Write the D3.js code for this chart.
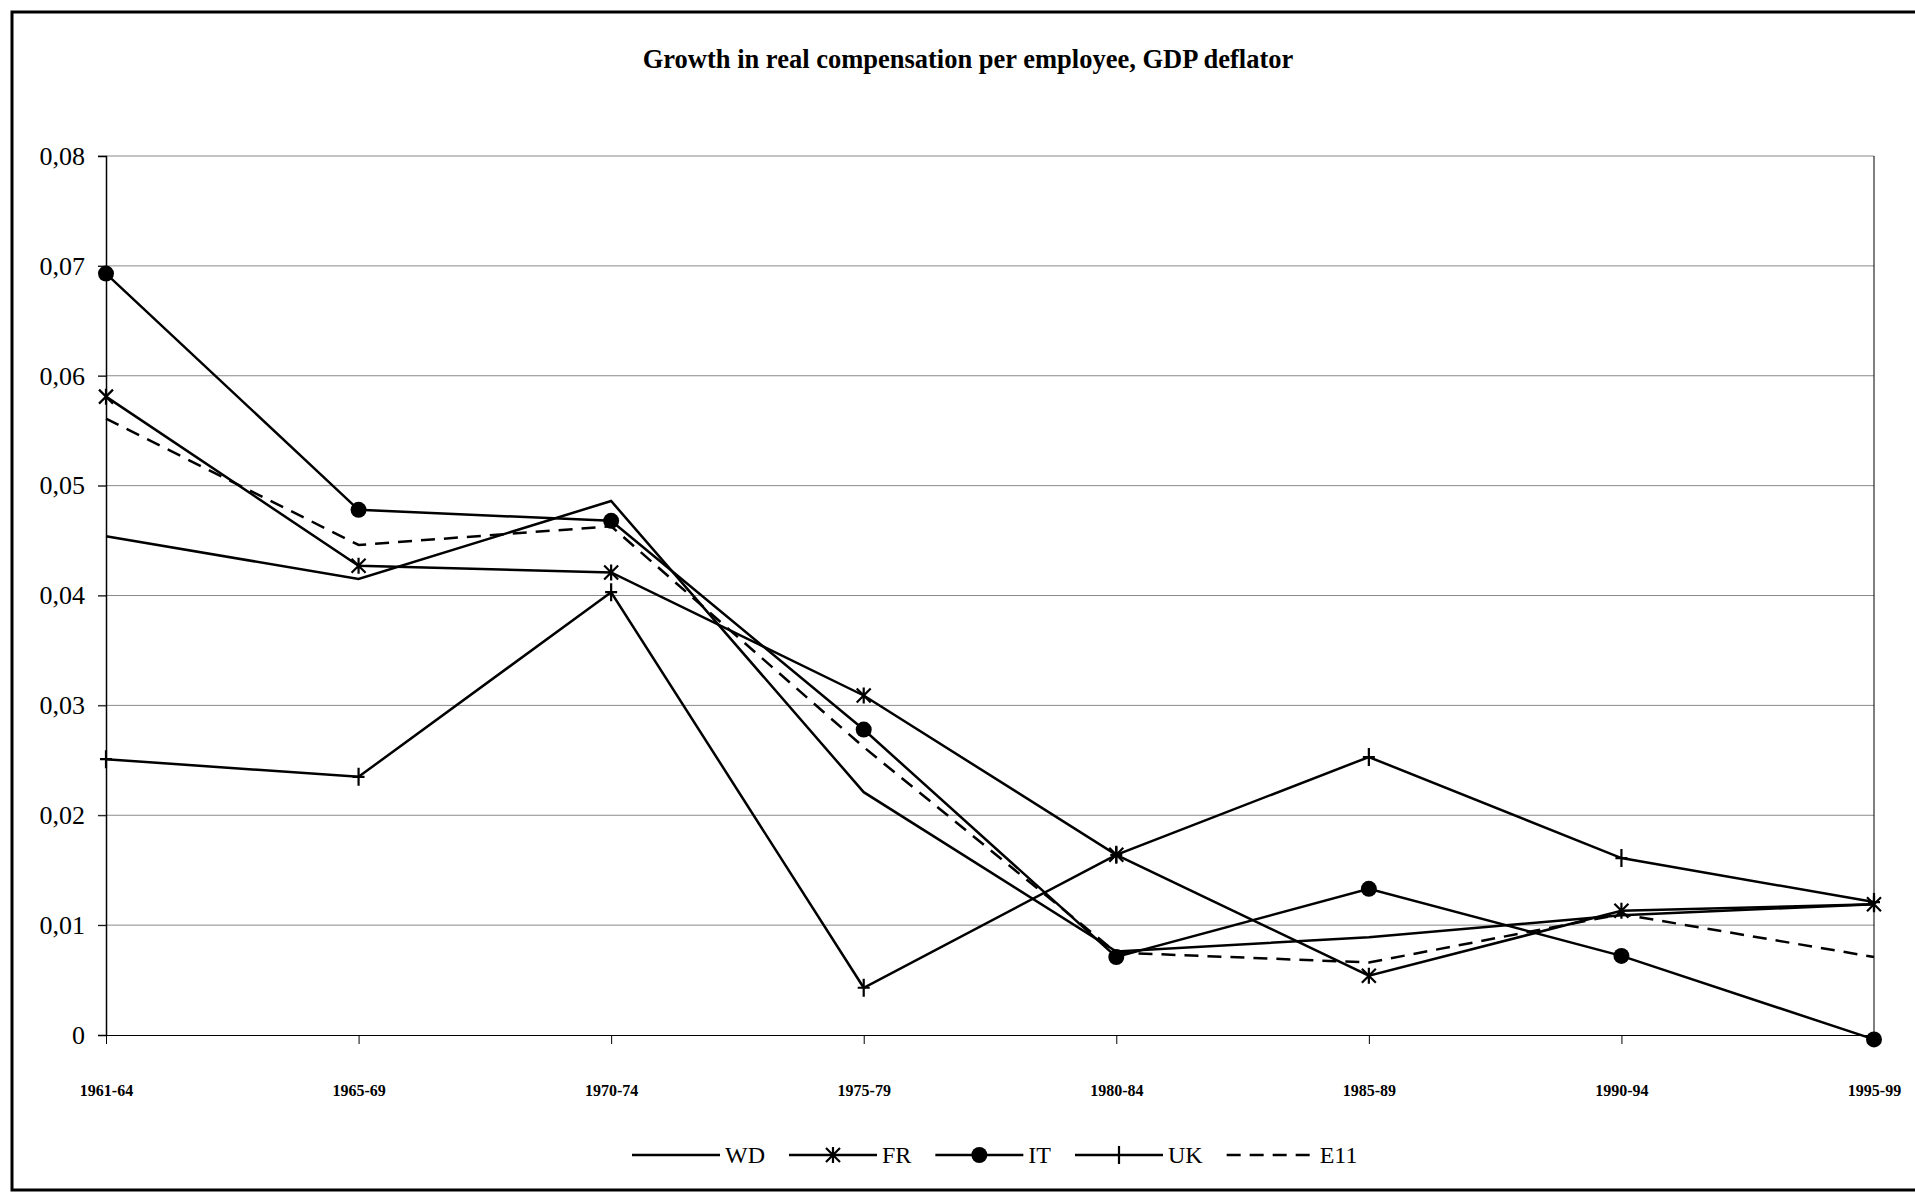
<!DOCTYPE html>
<html>
<head>
<meta charset="utf-8">
<script src="https://cdnjs.cloudflare.com/ajax/libs/d3/7.8.5/d3.min.js"></script>
<style>
    body { margin: 0; background: #fff; }
    svg { display: block; font-family: "Liberation Serif", "Times New Roman", serif; }
    .grid line { stroke: #8a8a8a; stroke-width: 1; }
    .axis path, .axis line { stroke: #000; }
</style>
</head>
<body>
<svg width="1915" height="1194"></svg>
<script>
/* ==================== DATA ==================== */

var periods = ["1961-64", "1965-69", "1970-74", "1975-79", "1980-84", "1985-89", "1990-94", "1995-99"];
var seriesNames = ["WD", "FR", "IT", "UK", "E11"];

var wd = [0.0454, 0.0415, 0.0486, 0.0221, 0.0076, 0.0089, 0.0109, 0.0119];
var fr = [0.0581, 0.0427, 0.0421, 0.0309, 0.0164, 0.0054, 0.0113, 0.0119];
var it = [0.0693, 0.0478, 0.0468, 0.0278, 0.0071, 0.0133, 0.0072, -0.0004];
var uk = [0.0251, 0.0235, 0.0403, 0.0043, 0.0164, 0.0253, 0.0161, 0.0121];
var e11 = [0.0561, 0.0446, 0.0463, 0.0262, 0.0075, 0.0066, 0.0110, 0.0071];

var yTicks = [0, 0.01, 0.02, 0.03, 0.04, 0.05, 0.06, 0.07, 0.08];

var series = [
    { name: "WD", values: wd, marker: "none", dash: null },
    { name: "FR", values: fr, marker: "star", dash: null },
    { name: "IT", values: it, marker: "dot", dash: null },
    { name: "UK", values: uk, marker: "plus", dash: null },
    { name: "E11", values: e11, marker: "none", dash: "14,9" }
];

/* ==================== SETUP ==================== */

var svg = d3.select("svg"),
    margin = { top: 156, right: 41, bottom: 159, left: 106 },
    width = +svg.attr("width") - margin.left - margin.right,
    height = +svg.attr("height") - margin.top - margin.bottom,
    g = svg.append("g").attr("transform", "translate(" + margin.left + "," + margin.top + ")");

var x = d3.scalePoint().domain(periods).range([0, width]);
var y = d3.scaleLinear().domain([0, 0.08]).range([height, 0]);

var fmt = function(d) { return d === 0 ? "0" : d3.format(".2f")(d).replace(".", ","); };

// outer frame of the chart object (right side is cut off in the scan)
svg.append("path")
    .attr("d", "M1915,12 H12 V1190 H1915")
    .attr("fill", "none")
    .attr("stroke", "#000")
    .attr("stroke-width", 3);

// title
svg.append("text")
    .attr("x", 968)
    .attr("y", 68)
    .attr("text-anchor", "middle")
    .attr("font-weight", "bold")
    .attr("font-size", 26.5)
    .text("Growth in real compensation per employee, GDP deflator");

/* ==================== GRID + AXES ==================== */

g.append("g")
    .attr("class", "grid")
    .selectAll("line")
    .data(yTicks.filter(function(d) { return d > 0; }))
    .enter().append("line")
    .attr("x1", -8)
    .attr("x2", width)
    .attr("y1", function(d) { return y(d); })
    .attr("y2", function(d) { return y(d); });

// right edge of plot area
g.append("line")
    .attr("x1", width).attr("x2", width)
    .attr("y1", 0).attr("y2", height)
    .attr("stroke", "#000");

var yAxis = g.append("g")
    .attr("class", "axis")
    .call(d3.axisLeft(y).tickValues(yTicks).tickFormat(fmt).tickSize(8).tickPadding(13));
yAxis.select(".domain").attr("stroke-width", 1.5);
yAxis.selectAll("text")
    .attr("font-family", "Liberation Serif, serif")
    .attr("font-size", 26)
    .attr("fill", "#000");

var xAxis = g.append("g")
    .attr("class", "axis")
    .attr("transform", "translate(0," + height + ")")
    .call(d3.axisBottom(x).tickSize(9).tickPadding(41).tickSizeOuter(0));
xAxis.selectAll("text")
    .attr("font-family", "Liberation Serif, serif")
    .attr("font-size", 16)
    .attr("font-weight", "bold")
    .attr("fill", "#000");

/* ==================== LINES ==================== */

var line = d3.line()
    .x(function(d, i) { return x(periods[i]); })
    .y(function(d) { return y(d); });

function drawMarker(sel, type) {
    if (type === "dot") {
        sel.append("circle").attr("r", 8).attr("fill", "#000");
    } else if (type === "star") {
        sel.append("path")
            .attr("d", "M-7,-7L7,7M-7,7L7,-7M0,-8V8")
            .attr("stroke", "#000").attr("stroke-width", 2.2).attr("fill", "none");
    } else if (type === "plus") {
        sel.append("path")
            .attr("d", "M0,-9V9M-6,0H6")
            .attr("stroke", "#000").attr("stroke-width", 2.2).attr("fill", "none");
    }
}

series.forEach(function(s) {
    g.append("path")
        .datum(s.values)
        .attr("fill", "none")
        .attr("stroke", "#000")
        .attr("stroke-width", 2.5)
        .attr("stroke-dasharray", s.dash)
        .attr("d", line);

    if (s.marker !== "none") {
        g.append("g")
            .selectAll("g")
            .data(s.values)
            .enter().append("g")
            .attr("transform", function(d, i) {
                return "translate(" + x(periods[i]) + "," + y(d) + ")";
            })
            .each(function() { drawMarker(d3.select(this), s.marker); });
    }
});

/* ==================== LEGEND ==================== */

var legend = svg.append("g").attr("transform", "translate(632,1155)");
var cursor = 0;

series.forEach(function(s) {
    var item = legend.append("g").attr("transform", "translate(" + cursor + ",0)");
    item.append("line")
        .attr("x1", 0).attr("x2", 88)
        .attr("y1", 0).attr("y2", 0)
        .attr("stroke", "#000")
        .attr("stroke-width", 2.5)
        .attr("stroke-dasharray", s.dash);
    drawMarker(item.append("g").attr("transform", "translate(44,0)"), s.marker);
    var t = item.append("text")
        .attr("x", 93)
        .attr("y", 8)
        .attr("font-size", 24)
        .text(s.name);
    cursor += 93 + t.node().getComputedTextLength() + 24;
});
</script>
</body>
</html>
